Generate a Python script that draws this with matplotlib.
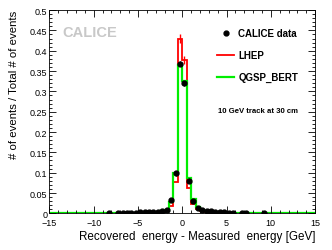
import numpy as np
import matplotlib
matplotlib.use("Agg")
import matplotlib.pyplot as plt
from matplotlib.lines import Line2D
from matplotlib.ticker import MultipleLocator, FormatStrFormatter

plt.rcParams['font.family'] = ['Liberation Sans', 'DejaVu Sans']

# bin centres (0.5 GeV bins)
data_vals = {
    -8.25: 0.0005, -7.25: 0.001, -6.75: 0.001, -6.25: 0.002, -5.75: 0.002,
    -5.25: 0.002, -4.75: 0.003, -4.25: 0.003, -3.75: 0.003, -3.25: 0.004,
    -2.75: 0.004, -2.25: 0.005, -1.75: 0.008, -1.25: 0.032, -0.75: 0.099,
    -0.25: 0.368, 0.25: 0.320, 0.75: 0.080, 1.25: 0.030, 1.75: 0.012,
    2.25: 0.008, 2.75: 0.006, 3.25: 0.005, 3.75: 0.004, 4.25: 0.004,
    4.75: 0.003, 5.25: 0.002, 5.75: 0.002, 6.75: 0.001, 7.25: 0.001,
    9.25: 0.001,
}
lhep_vals = {
    -2.25: 0.004, -1.75: 0.006, -1.25: 0.018, -0.75: 0.076, -0.25: 0.430,
    0.25: 0.378, 0.75: 0.062, 1.25: 0.022, 1.75: 0.010, 2.25: 0.006,
    2.75: 0.004, 3.25: 0.003, 3.75: 0.002, 4.25: 0.002, 4.75: 0.001,
}
qgsp_vals = {
    -2.25: 0.005, -1.75: 0.008, -1.25: 0.028, -0.75: 0.100, -0.25: 0.365,
    0.25: 0.325, 0.75: 0.088, 1.25: 0.035, 1.75: 0.015, 2.25: 0.008,
    2.75: 0.005, 3.25: 0.004, 3.75: 0.003, 4.25: 0.002, 4.75: 0.002,
    5.25: 0.001,
}

edges = np.arange(-15, 15.01, 0.5)
mids = edges[:-1] + 0.25


def to_hist(d):
    return np.array([d.get(round(m, 2), 0.0) for m in mids])


lhep = to_hist(lhep_vals)
qgsp = to_hist(qgsp_vals)
dx = np.array(list(data_vals.keys()))
dy = np.array(list(data_vals.values()))

fig = plt.figure(figsize=(3.32, 2.51), dpi=100)
ax = fig.add_axes([0.149, 0.146, 0.800, 0.810])

ax.stairs(lhep, edges, color='#ff0000', lw=1.3)
ax.errorbar(mids[lhep > 0.2], lhep[lhep > 0.2], yerr=0.01, fmt='none',
            ecolor='#ff0000', elinewidth=1.0)
ax.stairs(qgsp, edges, color='#00ee00', lw=1.6)
ax.errorbar(dx, dy, yerr=np.where(dy > 0.05, 0.006, 0.0), fmt='o', color='black',
            ms=3.5, elinewidth=0.8, capsize=0)

ax.set_xlim(-15, 15)
ax.set_ylim(0, 0.5)
ax.xaxis.set_major_locator(MultipleLocator(5))
ax.xaxis.set_minor_locator(MultipleLocator(1))
ax.yaxis.set_major_locator(MultipleLocator(0.05))
ax.yaxis.set_minor_locator(MultipleLocator(0.01))
ax.yaxis.set_major_formatter(FormatStrFormatter('%g'))
ax.tick_params(which='both', direction='in', top=True, right=True,
               labelsize=6.5, width=0.6, pad=1.5)
ax.tick_params(axis='x', pad=3.2)
ax.tick_params(which='major', length=5)
ax.tick_params(which='minor', length=2.5)
for s in ax.spines.values():
    s.set_linewidth(0.6)

ax.set_xlabel('Recovered  energy - Measured  energy [GeV]', fontsize=8.4,
              loc='right', labelpad=2.5)
ax.set_ylabel('# of events / Total # of events', fontsize=8.2, loc='top',
              labelpad=8)

ax.text(0.05, 0.87, 'CALICE', transform=ax.transAxes, fontsize=10.5,
        fontweight='bold', color='#c8c8c8')

handles = [
    Line2D([], [], ls='none', marker='o', color='black', ms=3.5),
    Line2D([], [], color='#ff0000', lw=1.3),
    Line2D([], [], color='#00ee00', lw=1.6),
]
labels = ['CALICE data', 'LHEP', 'QGSP_BERT']
ax.legend(handles, labels, loc='upper left', bbox_to_anchor=(0.597, 0.955),
          frameon=False, prop={'weight': 'bold', 'size': 7},
          handlelength=1.8, labelspacing=1.25, handletextpad=0.4)

ax.text(0.635, 0.5, '10 GeV track at 30 cm', transform=ax.transAxes,
        fontsize=5.6, fontweight='bold')

fig.savefig('out.png', dpi=100)
